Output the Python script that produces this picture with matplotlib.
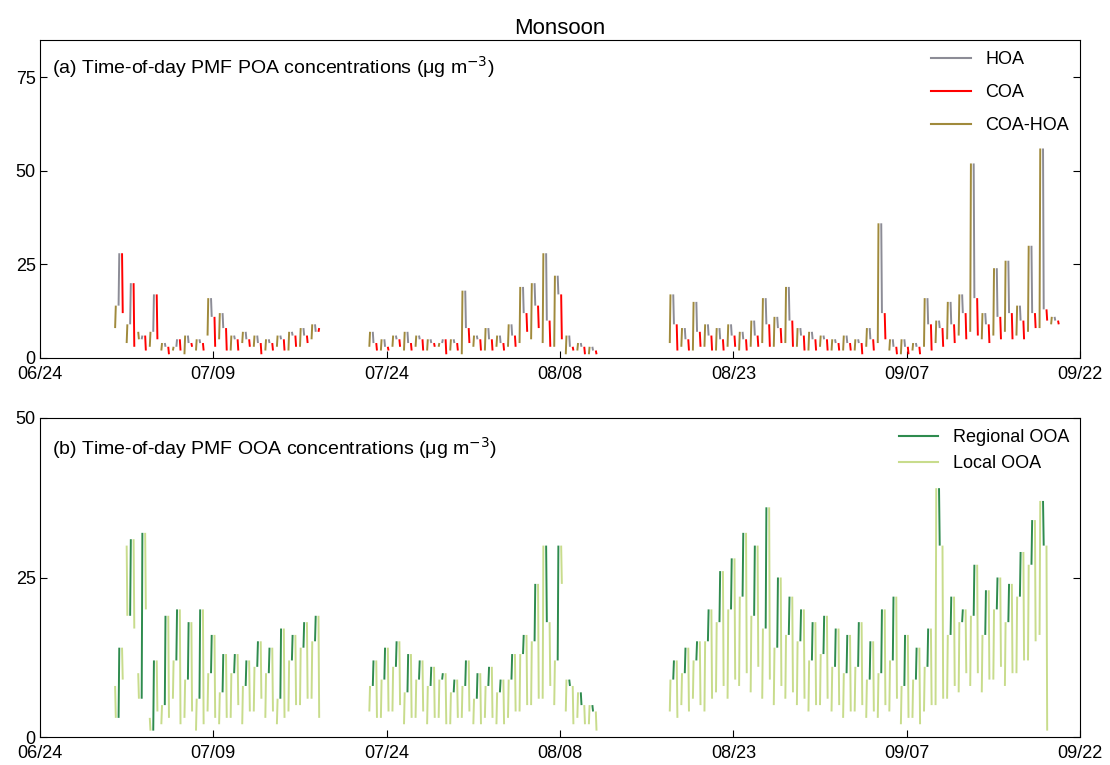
import matplotlib
matplotlib.use("Agg")
import matplotlib.pyplot as plt
import numpy as np

plt.rcParams['font.family'] = ['Liberation Sans', 'DejaVu Sans']
plt.rcParams['font.size'] = 13

tick_pos = [0, 15, 30, 45, 60, 75, 90]
tick_labels = ["06/24", "07/09", "07/24", "08/08", "08/23", "09/07", "09/22"]

# block start days (days since 06/24)
block_starts = [6.5, 28.5, 54.5]

# POA: per day [00h, 06h, 12h, 18h] values
poa_b1 = [[8,14,28,12],[4,9,20,3],[7,5,6,2],[3,7,17,5],[2,4,3,1],[2,3,5,2],
          [1,6,4,3],[2,5,4,2],[6,16,11,3],[5,12,8,2],[2,6,5,2],[4,7,5,3],
          [3,6,4,1],[2,5,4,2],[3,6,5,2],[2,7,6,3],[3,8,6,4],[5,9,7,8]]
poa_b2 = [[3,7,4,2],[2,5,3,2],[3,6,5,3],[2,7,4,2],[3,6,5,2],[2,5,4,3],
          [3,4,5,1],[2,5,4,2],[1,18,8,4],[3,6,5,2],[2,8,5,2],[3,6,4,2],
          [3,9,6,3],[4,19,12,7],[5,20,14,8],[4,28,10,3],[3,22,17,5],[1,6,3,2],
          [2,4,3,1],[1,3,2,1]]
poa_b3 = [[4,17,9,2],[3,8,5,2],[2,15,7,3],[3,9,6,2],[2,8,5,2],[3,9,6,3],
          [2,7,5,2],[3,10,6,3],[4,16,9,3],[3,11,8,4],[4,19,10,3],[3,8,6,2],
          [2,7,5,2],[3,6,5,2],[2,5,4,2],[2,6,4,2],[2,5,4,1],[3,8,5,2],
          [4,36,12,5],[2,5,3,1],[1,5,3,1],[2,4,3,1],[3,16,9,2],[4,10,8,3],
          [5,15,9,4],[6,17,12,5],[7,52,16,6],[5,12,9,4],[6,24,11,5],[7,26,12,5],
          [6,14,10,5],[7,30,12,8],[8,56,13,10],[9,11,10,9]]

# OOA: per day [00h, 06h, 12h, 18h]
ooa_b1 = [[8,3,14,9],[30,19,31,17],[10,6,32,20],[3,1,12,4],[2,5,19,3],[6,12,20,2],
          [3,9,18,4],[1,6,20,2],[4,10,16,3],[2,7,13,3],[3,10,13,5],[2,8,12,4],
          [4,11,15,6],[3,10,14,4],[2,6,17,3],[4,12,16,5],[5,14,18,6],[6,15,19,3]]
ooa_b2 = [[4,8,12,3],[3,9,14,4],[4,11,15,5],[2,7,13,3],[3,9,12,4],[2,8,11,3],
          [3,9,10,2],[2,7,9,3],[3,8,12,4],[2,6,10,2],[3,8,11,3],[2,7,9,2],
          [3,9,13,4],[4,13,16,5],[5,15,24,6],[6,30,18,8],[5,12,30,24],[4,9,8,2],
          [3,7,5,2],[2,5,4,1]]
ooa_b3 = [[4,9,12,3],[5,10,14,4],[6,12,15,5],[4,15,20,6],[7,18,26,8],[6,20,28,9],
          [8,22,32,10],[7,19,30,11],[6,17,36,9],[5,14,25,8],[6,16,22,7],[5,15,20,6],
          [4,12,18,5],[5,13,19,6],[4,11,17,5],[3,10,16,4],[4,11,18,5],[3,9,15,4],
          [3,10,20,5],[4,12,22,6],[2,8,16,3],[3,9,14,2],[4,11,17,5],[5,39,30,6],
          [6,16,22,8],[7,18,20,10],[8,19,27,10],[7,16,23,9],[9,20,25,11],[8,18,24,10],
          [10,22,29,12],[12,27,34,15],[16,37,30,1]]

poa_colors = ['#a08a3c', '#8c8c96', '#ff0000']
ooa_colors = ['#c8dc8c', '#2e8b4e', '#c8dc8c']

fig = plt.figure(figsize=(11.1, 7.65), dpi=100)
axa = fig.add_axes([40/1110, 1-358/765, 1040/1110, 318/765])
axb = fig.add_axes([40/1110, 1-737/765, 1040/1110, 319/765])

def draw(ax, blocks, colors):
    for start, days in zip(block_starts, blocks):
        for i, v in enumerate(days):
            d = start + i
            for k in range(3):
                x0 = d + 0.3 * k
                ax.plot([x0, x0 + 0.06], [v[k], v[k+1]], color=colors[k], lw=1.4,
                        solid_capstyle='butt')

draw(axa, [poa_b1, poa_b2, poa_b3], poa_colors)
draw(axb, [ooa_b1, ooa_b2, ooa_b3], ooa_colors)

for ax in (axa, axb):
    ax.set_xlim(0, 90)
    ax.set_xticks(tick_pos)
    ax.set_xticklabels(tick_labels)
    ax.tick_params(direction='in', top=False, right=True, length=5, labelsize=13)
    ax.tick_params(axis='y', pad=3)
    ax.tick_params(axis='x', pad=6)
axa.set_ylim(0, 85)
axa.set_yticks([0, 25, 50, 75])
axb.set_ylim(0, 50)
axb.set_yticks([0, 25, 50])

axa.text(0.012, 0.955, "(a) Time-of-day PMF POA concentrations (μg m$^{-3}$)",
         transform=axa.transAxes, va='top', fontsize=14)
axb.text(0.012, 0.945, "(b) Time-of-day PMF OOA concentrations (μg m$^{-3}$)",
         transform=axb.transAxes, va='top', fontsize=14)
axa.set_title("Monsoon", fontsize=16, pad=4)

from matplotlib.lines import Line2D
axa.legend([Line2D([], [], color='#8c8c96'), Line2D([], [], color='#ff0000'),
            Line2D([], [], color='#a08a3c')], ["HOA", "COA", "COA-HOA"],
           loc='upper right', frameon=False, fontsize=13, handlelength=2.2,
           labelspacing=0.9, borderaxespad=0.2)
axb.legend([Line2D([], [], color='#2e8b4e'), Line2D([], [], color='#c8dc8c')],
           ["Regional OOA", "Local OOA"], loc='upper right', frameon=False,
           fontsize=13, handlelength=2.2, borderaxespad=0.2)

fig.savefig("out.png", dpi=100)
